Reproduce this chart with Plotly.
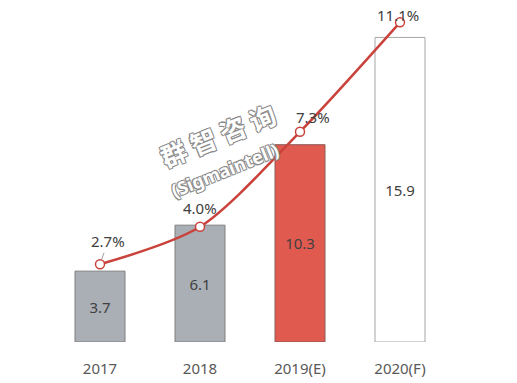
import plotly.graph_objects as go

categories = ["2017", "2018", "2019(E)", "2020(F)"]
bar_values = [3.7, 6.1, 10.3, 15.9]
growth_pct = [2.7, 4.0, 7.3, 11.1]
growth_labels = ["2.7%", "4.0%", "7.3%", "11.1%"]

bar_fill = ["#A9AFB5", "#A9AFB5", "#E05A50", "#FFFFFF"]
bar_line = ["#7F7F7F", "#7F7F7F", "#8C5A55", "#A6A6A6"]
line_color = "#C9423B"
font_family = "Noto Sans, Open Sans, sans-serif"

fig = go.Figure()
fig.add_trace(go.Bar(
    x=categories, y=bar_values,
    marker=dict(color=bar_fill, line=dict(color=bar_line, width=1)),
    text=[f"{v}" for v in bar_values], textposition="inside",
    insidetextanchor="middle", textangle=0,
    textfont=dict(size=15, color="#404040", family=font_family),
    hoverinfo="skip", showlegend=False,
))
fig.add_trace(go.Scatter(
    x=categories, y=growth_pct, yaxis="y2", mode="lines+markers",
    line=dict(color=line_color, width=2.5, shape="spline", smoothing=0.8),
    marker=dict(size=9, color="white", line=dict(color=line_color, width=1.5)),
    cliponaxis=False, showlegend=False, hoverinfo="skip",
))

# percentage labels
offsets = [(8, -23, True), (0, 19, False), (13, 15, False), (-2, 7, False)]
for i, (val, lab, (dx, dy, arrow)) in enumerate(zip(growth_pct, growth_labels, offsets)):
    if arrow:
        fig.add_annotation(x=i, y=val, xref="x", yref="y2", text=lab,
                           showarrow=True, ax=dx, ay=dy, arrowhead=0, arrowwidth=1,
                           arrowcolor="#A0A0A0", standoff=5,
                           font=dict(size=15, color="#404040", family=font_family))
    else:
        fig.add_annotation(x=i, y=val, xref="x", yref="y2", text=lab,
                           showarrow=False, xshift=dx, yshift=dy,
                           font=dict(size=15, color="#404040", family=font_family))

# watermark
shadow = "1px 1px 0 #8a8a8a, -1px -1px 0 #8a8a8a, 1px -1px 0 #8a8a8a, -1px 1px 0 #8a8a8a"
fig.add_annotation(x=0.42, y=0.635, xref="paper", yref="paper", text="<b>群 智 咨 询</b>",
                   showarrow=False, textangle=-22,
                   font=dict(size=26, color="white", family="Noto Sans CJK SC", shadow=shadow))
fig.add_annotation(x=0.4375, y=0.528, xref="paper", yref="paper", text="<b>(Sigmaintell)</b>",
                   showarrow=False, textangle=-22,
                   font=dict(size=18, color="white", family="Noto Sans", shadow=shadow))

fig.update_layout(
    width=517, height=383,
    margin=dict(l=42, r=75, t=8, b=49),
    paper_bgcolor="white", plot_bgcolor="white",
    bargap=0.5,
    xaxis=dict(type="category", showgrid=False, showline=False, zeroline=False, ticks="",
               ticklabelstandoff=16,
               tickfont=dict(size=15, color="#595959", family=font_family)),
    yaxis=dict(range=[0, 17.02], visible=False),
    yaxis2=dict(range=[0, 11.32], overlaying="y", visible=False),
)
fig.write_html("out.html")
